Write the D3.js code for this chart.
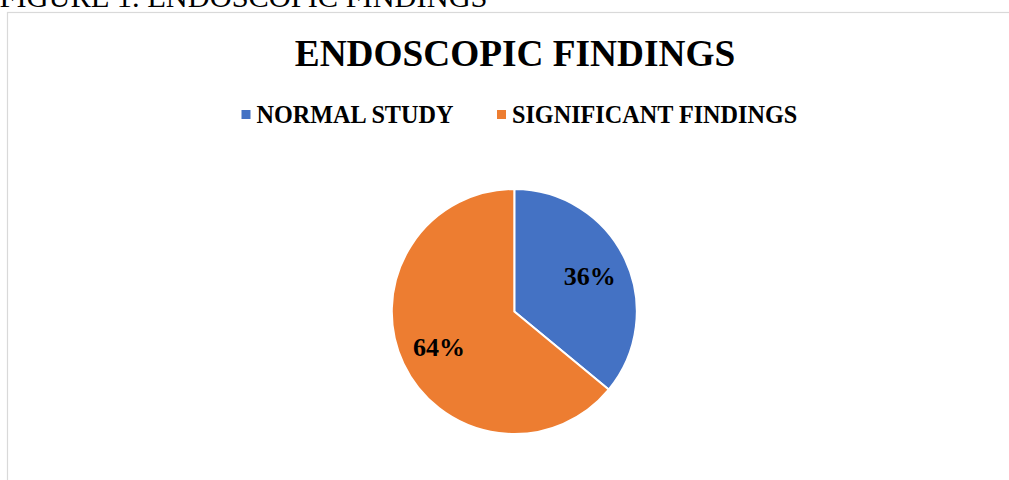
<!DOCTYPE html>
<html>
<head>
<meta charset="utf-8">
<script src="https://cdn.jsdelivr.net/npm/d3@7"></script>
<style>
  html, body { margin: 0; padding: 0; background: #fff; overflow: hidden; }
  svg { display: block; }
</style>
</head>
<body>
<svg id="chart" width="1009" height="480"></svg>
<script>
const categories = ["NORMAL STUDY", "SIGNIFICANT FINDINGS"];
const values = [36, 64];
const colors = ["#4472C4", "#ED7D31"];
const chartTitle = "ENDOSCOPIC FINDINGS";
const figureCaption = "FIGURE 1. ENDOSCOPIC FINDINGS";

const svg = d3.select("#chart");
const serif = "'Liberation Serif', 'Times New Roman', serif";

// figure caption (clipped at top, as in the source page)
svg.append("text")
  .attr("x", -0.5).attr("y", 6.5)
  .attr("font-family", serif).attr("font-size", 30.4)
  .attr("fill", "#000")
  .text(figureCaption);

// chart border
svg.append("rect")
  .attr("x", 7.5).attr("y", 12.5)
  .attr("width", 1020).attr("height", 500)
  .attr("fill", "none").attr("stroke", "#d9d9d9").attr("stroke-width", 1.2);

// title
svg.append("text")
  .attr("x", 515).attr("y", 66)
  .attr("text-anchor", "middle")
  .attr("font-family", serif).attr("font-weight", "bold").attr("font-size", 37.3)
  .attr("fill", "#000")
  .text(chartTitle);

// legend
const legendX = [241.5, 497];
const color = d3.scaleOrdinal().domain(categories).range(colors);
const lg = svg.append("g");
categories.forEach((c, i) => {
  lg.append("rect")
    .attr("x", legendX[i]).attr("y", 110)
    .attr("width", 9).attr("height", 9)
    .attr("fill", color(c));
  lg.append("text")
    .attr("x", legendX[i] + 15).attr("y", 122.8)
    .attr("font-family", serif).attr("font-weight", "bold").attr("font-size", 24.2)
    .attr("fill", "#000")
    .text(c);
});

// pie
const cx = 514.3, cy = 311.5, r = 122.5;
const pie = d3.pie().sort(null).value(d => d.v);
const data = categories.map((c, i) => ({ c, v: values[i] }));
const arcs = pie(data);
const arc = d3.arc().innerRadius(0).outerRadius(r);
const labelArc = d3.arc().innerRadius(r * 0.68).outerRadius(r * 0.68);
const total = d3.sum(values);

const g = svg.append("g").attr("transform", `translate(${cx},${cy})`);
g.selectAll("path").data(arcs).join("path")
  .attr("d", arc)
  .attr("fill", d => color(d.data.c))
  .attr("stroke", "#fff").attr("stroke-width", 2)
  .attr("stroke-linejoin", "round");

g.selectAll("text.lbl").data(arcs).join("text")
  .attr("class", "lbl")
  .attr("transform", d => `translate(${labelArc.centroid(d)})`)
  .attr("text-anchor", "middle")
  .attr("dy", "0.33em")
  .attr("font-family", serif).attr("font-weight", "bold").attr("font-size", 26)
  .attr("fill", "#000")
  .text(d => Math.round(d.data.v / total * 100) + "%");
</script>
</body>
</html>
